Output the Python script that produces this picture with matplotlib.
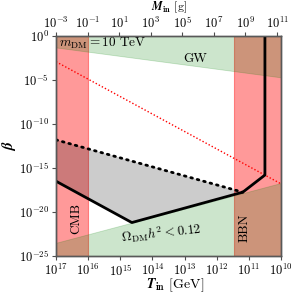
import numpy as np
import matplotlib
matplotlib.use("Agg")
import matplotlib.pyplot as plt

plt.rcParams['font.family'] = 'serif'
plt.rcParams['font.serif'] = ['cmr10', 'DejaVu Serif']
plt.rcParams['mathtext.fontset'] = 'cm'
plt.rcParams['axes.unicode_minus'] = False
plt.rcParams['axes.formatter.use_mathtext'] = True

# ---- data (log10 values) ----
cmb_T = [17.0, 16.0]            # log10 T_in [GeV]
bbn_T = [11.46, 10.0]
gw_logT = [17.0, 10.0]
gw_logb = [-1.3, -4.7]
dm_logT = [17.0, 10.0]
dm_logb = [-23.5, -16.7]
solid_logT = [17.0, 14.64, 11.19, 10.50, 10.50]
solid_logb = [-16.5, -21.2, -17.75, -15.8, 0.0]
dotted_logT = [17.0, 11.19]
dotted_logb = [-11.8, -17.75]
red_logT = [17.0, 10.0]
red_logb = [-2.92, -16.8]

xticks_T = list(range(17, 9, -1))
xticks_M = list(range(-3, 12, 2))
yticks_b = [0, -5, -10, -15, -20, -25]

fig = plt.figure(figsize=(2.98, 2.97), dpi=100)
ax = fig.add_axes([56/298, 1-256/297, 225/298, 220/297])
ax.set_xscale('log')
ax.set_yscale('log')
ax.set_xlim(1e17, 1e10)
ax.set_ylim(1e-25, 1.0)

# red bands
ax.axvspan(10**cmb_T[0], 10**cmb_T[1], facecolor='red', alpha=0.4, edgecolor='red', lw=0.8, zorder=1)
ax.axvspan(10**bbn_T[0], 10**bbn_T[1], facecolor='red', alpha=0.4, edgecolor='red', lw=0.8, zorder=1)

# green regions
gT = 10**np.array(gw_logT)
ax.fill_between(gT, 10**np.array(gw_logb), 1.0, color='green', alpha=0.2, lw=0.6, zorder=2)
dT = 10**np.array(dm_logT)
ax.fill_between(dT, 1e-25, 10**np.array(dm_logb), color='green', alpha=0.2, lw=0.6, zorder=2)

# gray region between dotted and solid lines
poly_x = np.concatenate([10**np.array(dotted_logT), 10**np.array(solid_logT[:3][::-1])])
poly_y = np.concatenate([10**np.array(dotted_logb), 10**np.array(solid_logb[:3][::-1])])
ax.fill(poly_x, poly_y, color='black', alpha=0.2, lw=0, zorder=3)

# lines
ax.plot(10**np.array(solid_logT), 10**np.array(solid_logb), color='black', lw=2.0, zorder=5)
ax.plot(10**np.array(dotted_logT), 10**np.array(dotted_logb), color='black', lw=2.0,
        ls=(0, (0.6, 1.8)), dash_capstyle='round', zorder=5)
ax.plot(10**np.array(red_logT), 10**np.array(red_logb), color='red', lw=1.0,
        ls=(0, (1, 1.5)), zorder=4)

# texts
ax.text(10**16.9, 10**-0.87, r'$m_{\rm DM} = 10$ TeV', fontsize=9.5, ha='left', va='center', zorder=6)
ax.text(10**12.68, 10**-2.65, 'GW', fontsize=9.5, ha='center', va='center', zorder=6)
ax.text(10**16.36, 10**-20.7, 'CMB', fontsize=9.5, ha='center', va='center', rotation=90, zorder=6)
ax.text(10**11.13, 10**-21.8, 'BBN', fontsize=9.5, ha='center', va='center', rotation=90, zorder=6)
ax.text(10**13.73, 10**-22.39, r'$\Omega_{\rm DM} h^2 < 0.12$', fontsize=9.5, ha='center',
        va='center', rotation=6, zorder=6)

ax.set_xticks([10.0**k for k in xticks_T])
ax.set_yticks([10.0**k for k in yticks_b])
ax.minorticks_off()
ax.tick_params(labelsize=9, length=3, width=0.8, color='0.3', pad=2)
for s in ax.spines.values():
    s.set_color('0.35')
    s.set_linewidth(1.0)

ax.set_xlabel(r'$\boldsymbol{T}_{\bf in}$ [GeV]', fontsize=10, labelpad=0)
ax.xaxis.set_label_coords(0.53, -0.095)
ax.set_ylabel(r'$\boldsymbol{\beta}$', fontsize=11, labelpad=0)
ax.yaxis.set_label_coords(-0.17, 0.5)

# top axis: M_in [g]
ax2 = ax.twiny()
ax2.set_xscale('log')
ax2.set_xlim(1e-3, 10**11.25)
ax2.set_xticks([10.0**k for k in xticks_M])
ax2.minorticks_off()
ax2.tick_params(labelsize=9, length=3, width=0.8, color='0.3', pad=0.5)
for s in ax2.spines.values():
    s.set_color('0.35')
    s.set_linewidth(1.0)
ax2.set_xlabel(r'$\boldsymbol{M}_{\bf in}$ [g]', fontsize=8.5, labelpad=0)
ax2.xaxis.set_label_coords(0.5, 1.117)

fig.savefig('out.png', dpi=100)
